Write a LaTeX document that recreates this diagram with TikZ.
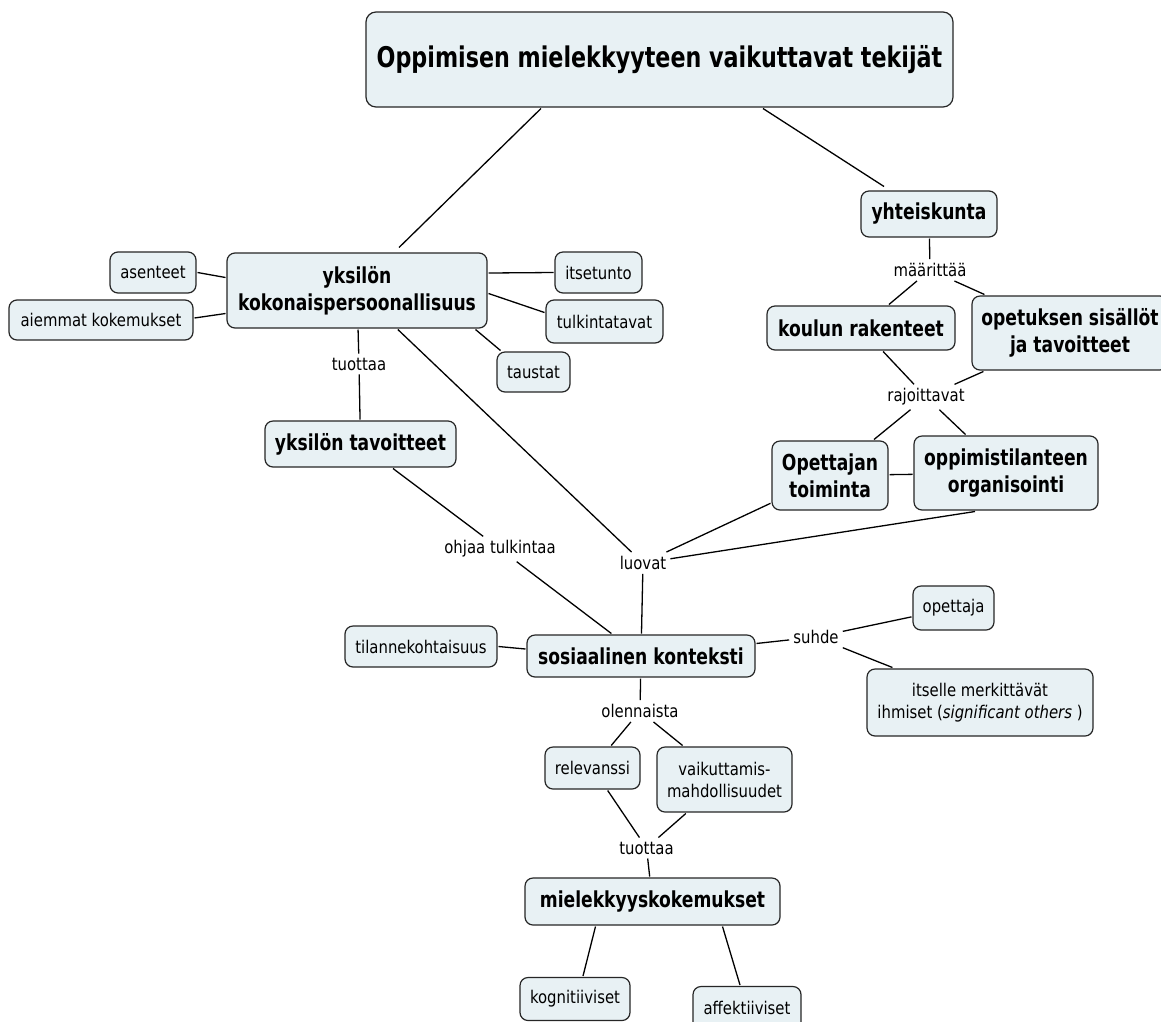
\documentclass[tikz,border=0pt]{standalone}
\usepackage{fontspec}
\newfontfamily\mapfont{DejaVu Sans}[FakeStretch=0.85]
\newfontfamily\mapboldfont{DejaVu Sans}[FakeStretch=0.78]
\definecolor{conceptfill}{RGB}{232,241,244}
\usetikzlibrary{positioning}

\begin{document}
\begin{tikzpicture}[
        x=1pt, y=-1pt,
        concept/.style={draw=black!85, fill=conceptfill, rounded corners=8pt,
                        line width=1.2pt, align=center, inner sep=0pt, outer sep=1.5pt,
                        font=\mapfont\fontsize{17.5}{22}\selectfont},
        keyconcept/.style={concept, font=\mapboldfont\bfseries\fontsize{22}{27}\selectfont},
        linkword/.style={inner sep=4pt, font=\mapfont\fontsize{17.5}{22}\selectfont},
        link/.style={line width=1.3pt}
    ]
        \path[use as bounding box, fill=white] (0,0) rectangle (1161,1021);

        % concepts
        \node[keyconcept, minimum width=587pt, minimum height=95pt, rounded corners=10pt,
              font=\mapboldfont\bfseries\fontsize{28.5}{34}\selectfont] (title) at (659.5,59.5)
            {Oppimisen mielekkyyteen vaikuttavat tekijät};
        \node[keyconcept, minimum width=136pt, minimum height=46pt] (yht) at (929,214) {yhteiskunta};
        \node[keyconcept, minimum width=188pt, minimum height=44pt] (koulu) at (861,328) {koulun rakenteet};
        \node[keyconcept, minimum width=196pt, minimum height=74pt] (sisallot) at (1070,333)
            {opetuksen sisällöt\\ja tavoitteet};
        \node[keyconcept, minimum width=116pt, minimum height=69pt] (opettajan) at (830,475.5)
            {Opettajan\\toiminta};
        \node[keyconcept, minimum width=184pt, minimum height=74pt] (organisointi) at (1006,473)
            {oppimistilanteen\\organisointi};
        \node[keyconcept, minimum width=260pt, minimum height=75pt] (persoona) at (357,290.5)
            {yksilön\\kokonaispersoonallisuus};
        \node[concept, minimum width=86pt, minimum height=41pt] (asenteet) at (153,272.5) {asenteet};
        \node[concept, minimum width=184pt, minimum height=40pt] (aiemmat) at (101,320) {aiemmat kokemukset};
        \node[concept, minimum width=87pt, minimum height=41pt] (itsetunto) at (598.5,272.5) {itsetunto};
        \node[concept, minimum width=117pt, minimum height=43pt] (tulkinta) at (604.5,321.5) {tulkintatavat};
        \node[concept, minimum width=73pt, minimum height=40pt] (taustat) at (533.5,372) {taustat};
        \node[keyconcept, minimum width=191pt, minimum height=46pt] (tavoitteet) at (360.5,444) {yksilön tavoitteet};
        \node[keyconcept, minimum width=228pt, minimum height=42pt] (konteksti) at (641,656) {sosiaalinen konteksti};
        \node[concept, minimum width=152pt, minimum height=41pt] (tilanne) at (421,646.5) {tilannekohtaisuus};
        \node[concept, minimum width=81pt, minimum height=44pt] (opettaja) at (953.5,608) {opettaja};
        \node[concept, minimum width=226pt, minimum height=67pt] (merkittavat) at (980,702.5)
            {itselle merkittävät\\ihmiset (\textit{significant others} )};
        \node[concept, minimum width=95pt, minimum height=42pt] (relevanssi) at (592.5,768) {relevanssi};
        \node[concept, minimum width=135pt, minimum height=65pt] (vaikutus) at (724.5,779.5)
            {vaikuttamis-\\mahdollisuudet};
        \node[keyconcept, minimum width=255pt, minimum height=47pt] (kokemukset) at (652.5,901.5) {mielekkyyskokemukset};
        \node[concept, minimum width=110pt, minimum height=43pt] (kognitiiviset) at (575,999) {kognitiiviset};
        \node[concept, minimum width=108pt, minimum height=43pt] (affektiiviset) at (747,1008) {affektiiviset};

        % linking words
        \node[linkword] (maarittaa) at (930,270) {määrittää};
        \node[linkword] (rajoittavat) at (926,397) {rajoittavat};
        \node[linkword] (tuottaa1) at (359,364) {tuottaa};
        \node[linkword] (ohjaa) at (500,549) {ohjaa tulkintaa};
        \node[linkword] (luovat) at (643,563) {luovat};
        \node[linkword] (suhde) at (816,637) {suhde};
        \node[linkword] (olennaista) at (640,711) {olennaista};
        \node[linkword] (tuottaa2) at (646.5,848) {tuottaa};

        % connectors
        \draw[link] ([xshift=-118.5pt]title.south) -- ([xshift=42pt,yshift=4pt]persoona.north);
        \draw[link] ([xshift=103.5pt]title.south) -- ([xshift=-45pt,yshift=3pt]yht.north);
        \draw[link] (yht) -- (maarittaa);
        \draw[link] (maarittaa) -- (koulu);
        \draw[link] (maarittaa) -- (sisallot);
        \draw[link] (koulu) -- (rajoittavat);
        \draw[link] (sisallot) -- (rajoittavat);
        \draw[link] (rajoittavat) -- (opettajan);
        \draw[link] (rajoittavat) -- (organisointi);
        \draw[link] (opettajan) -- (organisointi);
        \draw[link] (asenteet.east) -- ([yshift=13pt]persoona.west);
        \draw[link] ([yshift=2pt]aiemmat.east) -- ([yshift=-23pt]persoona.west);
        \draw[link] ([yshift=17.5pt]persoona.east) -- (itsetunto.west);
        \draw[link] ([yshift=-3pt]persoona.east) -- ([yshift=9pt]tulkinta.west);
        \draw[link] ([xshift=-13pt]persoona.south east) -- ([xshift=5pt]taustat.north west);
        \draw[link] (persoona) -- (tuottaa1);
        \draw[link] (tuottaa1) -- (tavoitteet);
        \draw[link] (persoona) -- (luovat);
        \draw[link] (opettajan) -- (luovat);
        \draw[link] ([xshift=-31pt]organisointi.south) -- (luovat);
        \draw[link] (luovat) -- (konteksti);
        \draw[link] (tavoitteet) -- (ohjaa);
        \draw[link] (ohjaa) -- (konteksti);
        \draw[link] (tilanne.east) -- ([yshift=7pt]konteksti.west);
        \draw[link] (konteksti) -- (suhde);
        \draw[link] (suhde) -- (opettaja);
        \draw[link] (suhde) -- (merkittavat);
        \draw[link] (konteksti) -- (olennaista);
        \draw[link] (olennaista) -- (relevanssi);
        \draw[link] (olennaista) -- (vaikutus);
        \draw[link] (relevanssi) -- (tuottaa2);
        \draw[link] (vaikutus) -- (tuottaa2);
        \draw[link] (tuottaa2) -- (kokemukset);
        \draw[link] ([xshift=-57pt]kokemukset.south) -- ([xshift=8pt]kognitiiviset.north);
        \draw[link] ([xshift=70pt]kokemukset.south) -- ([xshift=-7pt]affektiiviset.north);
    \end{tikzpicture}
\end{document}
